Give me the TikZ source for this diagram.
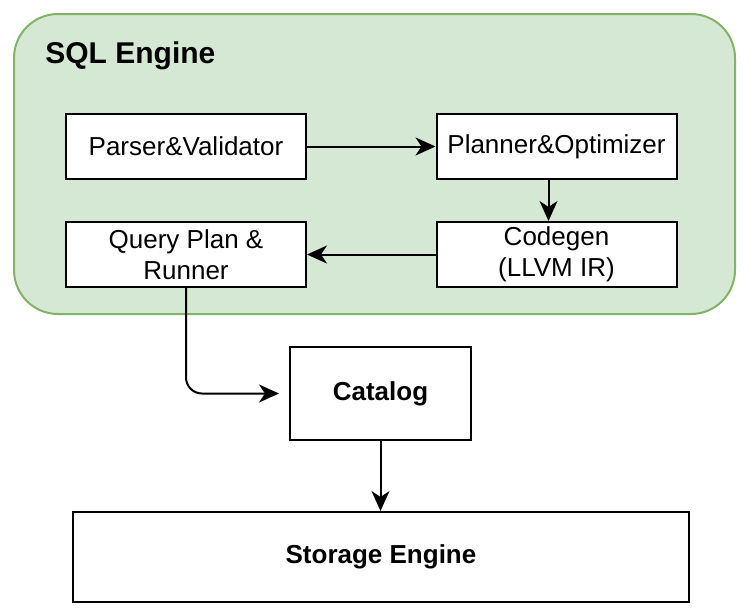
\documentclass[tikz,border=0pt]{standalone}
\usepackage{fontspec}
\setmainfont{Liberation Sans}
\usetikzlibrary{arrows.meta}
\definecolor{enginefill}{HTML}{D5E8D4}
\definecolor{engineline}{HTML}{82B366}

\begin{document}
\begin{tikzpicture}[x=0.5pt, y=-0.5pt,
    block/.style={draw=black, line width=1pt, fill=white, minimum width=120pt, minimum height=32.5pt,
      inner sep=0pt, align=center, font=\fontsize{13}{15.5}\selectfont},
    flow/.style={draw=black, line width=1pt, -{Stealth[length=10pt,width=9pt,inset=3pt]}}]

      \useasboundingbox (0,0) rectangle (750,612);

      \draw[engineline, line width=1pt, fill=enginefill, rounded corners=22pt] (14,14) rectangle (735,314);
      \node[anchor=base west, inner sep=0pt, font=\fontsize{15}{18}\selectfont\bfseries] (title) at (45,63) {SQL Engine};

      \node[block] (parser) at (186,146.5) {Parser\&Validator};
      \node[block] (planner) at (556.5,146.5) {Planner\&Optimizer};
      \node[block] (codegen) at (556.5,254.5) {Codegen\\(LLVM IR)};
      \node[block] (runner) at (186,254.5) {Query Plan \&\\Runner};
      \node[block, minimum width=90.5pt, minimum height=46.5pt, font=\fontsize{13}{15.5}\selectfont\bfseries] (catalog) at (380.5,393.5) {Catalog};
      \node[block, minimum width=308pt, minimum height=45pt, font=\fontsize{13}{15.5}\selectfont\bfseries] (storage) at (381,557) {Storage Engine};

      \draw[flow] (parser) -- (planner);
      \draw[flow] ([xshift=-4pt]planner.south) -- ([xshift=-4pt]codegen.north);
      \draw[flow] (codegen) -- (runner);
      \draw[flow, rounded corners=8pt, shorten >=5pt] (runner.south) |- (catalog.west);
      \draw[flow] (catalog.south) -- (catalog.south |- storage.north);

    \end{tikzpicture}
\end{document}
